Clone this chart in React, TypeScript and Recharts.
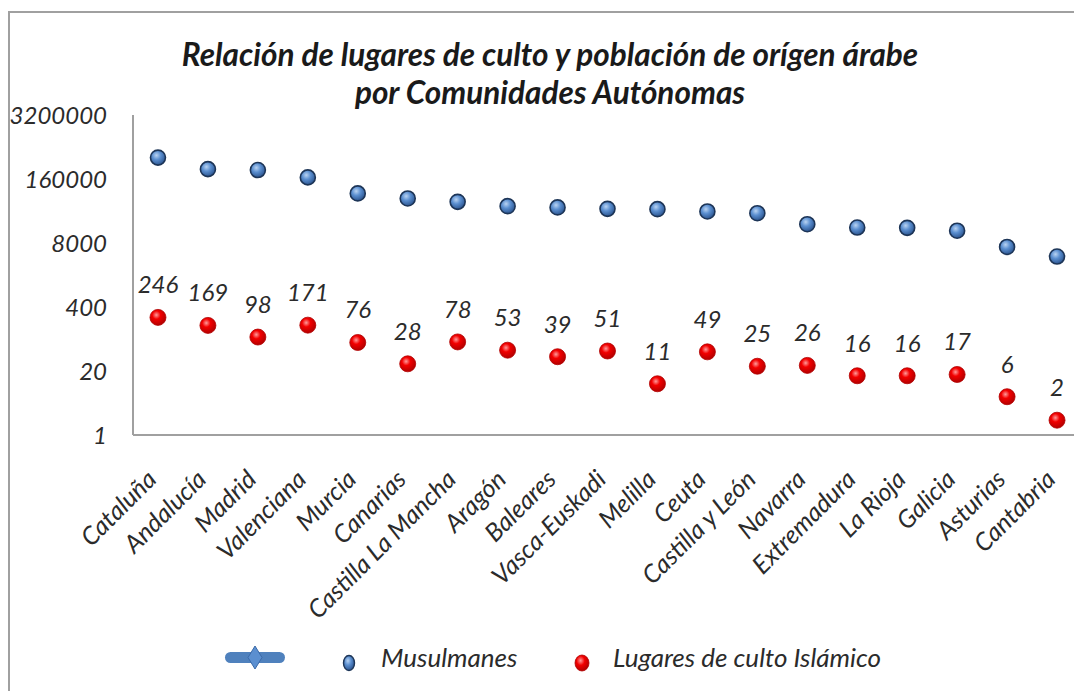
import React from "react";
import { ComposedChart, Line, XAxis, YAxis, LabelList } from "recharts";

const regions = [
  "Cataluña", "Andalucía", "Madrid", "Valenciana", "Murcia", "Canarias",
  "Castilla La Mancha", "Aragón", "Baleares", "Vasca-Euskadi", "Melilla", "Ceuta",
  "Castilla y León", "Navarra", "Extremadura", "La Rioja", "Galicia", "Asturias", "Cantabria",
];
const musulmanes = [
  436000, 254000, 243000, 172600, 81500, 64400, 54900, 44900, 42300, 39600,
  39000, 35000, 32300, 19300, 16500, 16250, 14200, 6650, 4250,
];
const lugares = [246, 169, 98, 171, 76, 28, 78, 53, 39, 51, 11, 49, 25, 26, 16, 16, 17, 6, 2];
const yTicks = [1, 20, 400, 8000, 160000, 3200000];

const data = regions.map((name, i) => ({ name, musulmanes: musulmanes[i], lugares: lugares[i] }));

const FONT = "Lato, 'Open Sans', sans-serif";
const TEXT = "#2b2b2b";
const AXIS = "#a0a0a0";

const BlueDot = (p: any) =>
  p.cx == null ? null : (
    <circle key={`b${p.index}`} cx={p.cx} cy={p.cy} r={7.5} fill="url(#gBlue)" stroke="#1d3557" strokeWidth={1.6} />
  );
const RedDot = (p: any) =>
  p.cx == null ? null : (
    <circle key={`r${p.index}`} cx={p.cx} cy={p.cy} r={8} fill="url(#gRed)" stroke="#b00000" strokeWidth={0.8} />
  );

const XTick = ({ x, y, payload }: any) => (
  <text
    x={x}
    y={y + 38}
    transform={`rotate(-45, ${x}, ${y + 38})`}
    textAnchor="end"
    fontFamily={FONT}
    fontStyle="italic"
    fontSize={25}
    fill={TEXT}
  >
    {payload.value}
  </text>
);

const YTick = ({ x, y, payload }: any) => (
  <text x={x} y={y} dy={9} textAnchor="end" fontFamily={FONT} fontStyle="italic" fontSize={24} fill={TEXT}>
    {payload.value}
  </text>
);

const Ball = ({ id, rx, ry, c0, c1, c2, stroke, sw }: any) => (
  <svg width={20} height={20}>
    <defs>
      <radialGradient id={id} cx="40%" cy="35%" r="65%">
        <stop offset="0%" stopColor={c0} />
        <stop offset="45%" stopColor={c1} />
        <stop offset="100%" stopColor={c2} />
      </radialGradient>
    </defs>
    <ellipse cx={10} cy={10} rx={rx} ry={ry} fill={`url(#${id})`} stroke={stroke} strokeWidth={sw} />
  </svg>
);

export default function App() {
  const legendText = { position: "absolute" as const, top: 0, lineHeight: "30px", whiteSpace: "nowrap" as const };
  return (
    <div style={{ position: "relative", width: 1074, height: 683, fontFamily: FONT, background: "#fff" }}>
      <div
        style={{
          position: "absolute", top: 3, left: 0, width: 1080, height: 700,
          borderTop: `2px solid ${AXIS}`, borderLeft: `2px solid ${AXIS}`,
        }}
      />
      <div
        style={{
          position: "absolute", top: 27, left: 0, width: 1084, textAlign: "center",
          fontWeight: 700, fontStyle: "italic", fontSize: 31.5, lineHeight: "38px", color: "#1a1a1a",
        }}
      >
        Relación de lugares de culto y población de orígen árabe
        <br />
        por Comunidades Autónomas
      </div>

      <ComposedChart
        width={1074}
        height={683}
        data={data}
        margin={{ top: 107, right: 0, bottom: 56, left: 0 }}
        style={{ position: "absolute", top: 0, left: 0 }}
      >
        <defs>
          <radialGradient id="gBlue" cx="40%" cy="35%" r="65%">
            <stop offset="0%" stopColor="#b9d3f2" />
            <stop offset="45%" stopColor="#5b8fd0" />
            <stop offset="100%" stopColor="#2c5590" />
          </radialGradient>
          <radialGradient id="gRed" cx="40%" cy="35%" r="65%">
            <stop offset="0%" stopColor="#ff9a9a" />
            <stop offset="40%" stopColor="#f20000" />
            <stop offset="100%" stopColor="#b30000" />
          </radialGradient>
        </defs>
        <XAxis
          dataKey="name"
          scale="band"
          interval={0}
          height={200}
          axisLine={{ stroke: AXIS, strokeWidth: 2 }}
          tickLine={false}
          tick={<XTick />}
        />
        <YAxis
          type="number"
          scale="log"
          domain={[1, 3200000]}
          ticks={yTicks}
          allowDataOverflow
          width={125}
          axisLine={{ stroke: AXIS, strokeWidth: 2 }}
          tickLine={false}
          tickMargin={20}
          tick={<YTick />}
        />
        <Line dataKey="musulmanes" stroke="none" dot={BlueDot} activeDot={false} isAnimationActive={false} />
        <Line dataKey="lugares" stroke="none" dot={RedDot} activeDot={false} isAnimationActive={false}>
          <LabelList
            dataKey="lugares"
            position="top"
            offset={24}
            fill={TEXT}
            fontSize={24}
            fontStyle="italic"
            fontFamily={FONT}
          />
        </Line>
      </ComposedChart>

      <div style={{ position: "absolute", top: 634, left: 0, width: 1074, height: 30, fontStyle: "italic", fontSize: 26, color: TEXT }}>
        <svg width={64} height={24} style={{ position: "absolute", left: 215, top: 3 }}>
          <rect x={2} y={7} width={60} height={11} rx={5.5} fill="#4f81bd" />
          <polygon points="32,1 39,12.5 32,24 25,12.5" fill="#5b8fd0" stroke="#3b6aa8" strokeWidth={1} />
        </svg>
        <div style={{ position: "absolute", left: 331, top: 5 }}>
          <Ball id="gBlueL" rx={5.5} ry={7.5} c0="#b9d3f2" c1="#5b8fd0" c2="#2c5590" stroke="#1d3557" sw={1.4} />
        </div>
        <span style={{ ...legendText, left: 373 }}>Musulmanes</span>
        <div style={{ position: "absolute", left: 564, top: 5 }}>
          <Ball id="gRedL" rx={7} ry={8} c0="#ff9a9a" c1="#f20000" c2="#b30000" stroke="#b00000" sw={0.8} />
        </div>
        <span style={{ ...legendText, left: 605 }}>Lugares de culto Islámico</span>
      </div>
    </div>
  );
}
